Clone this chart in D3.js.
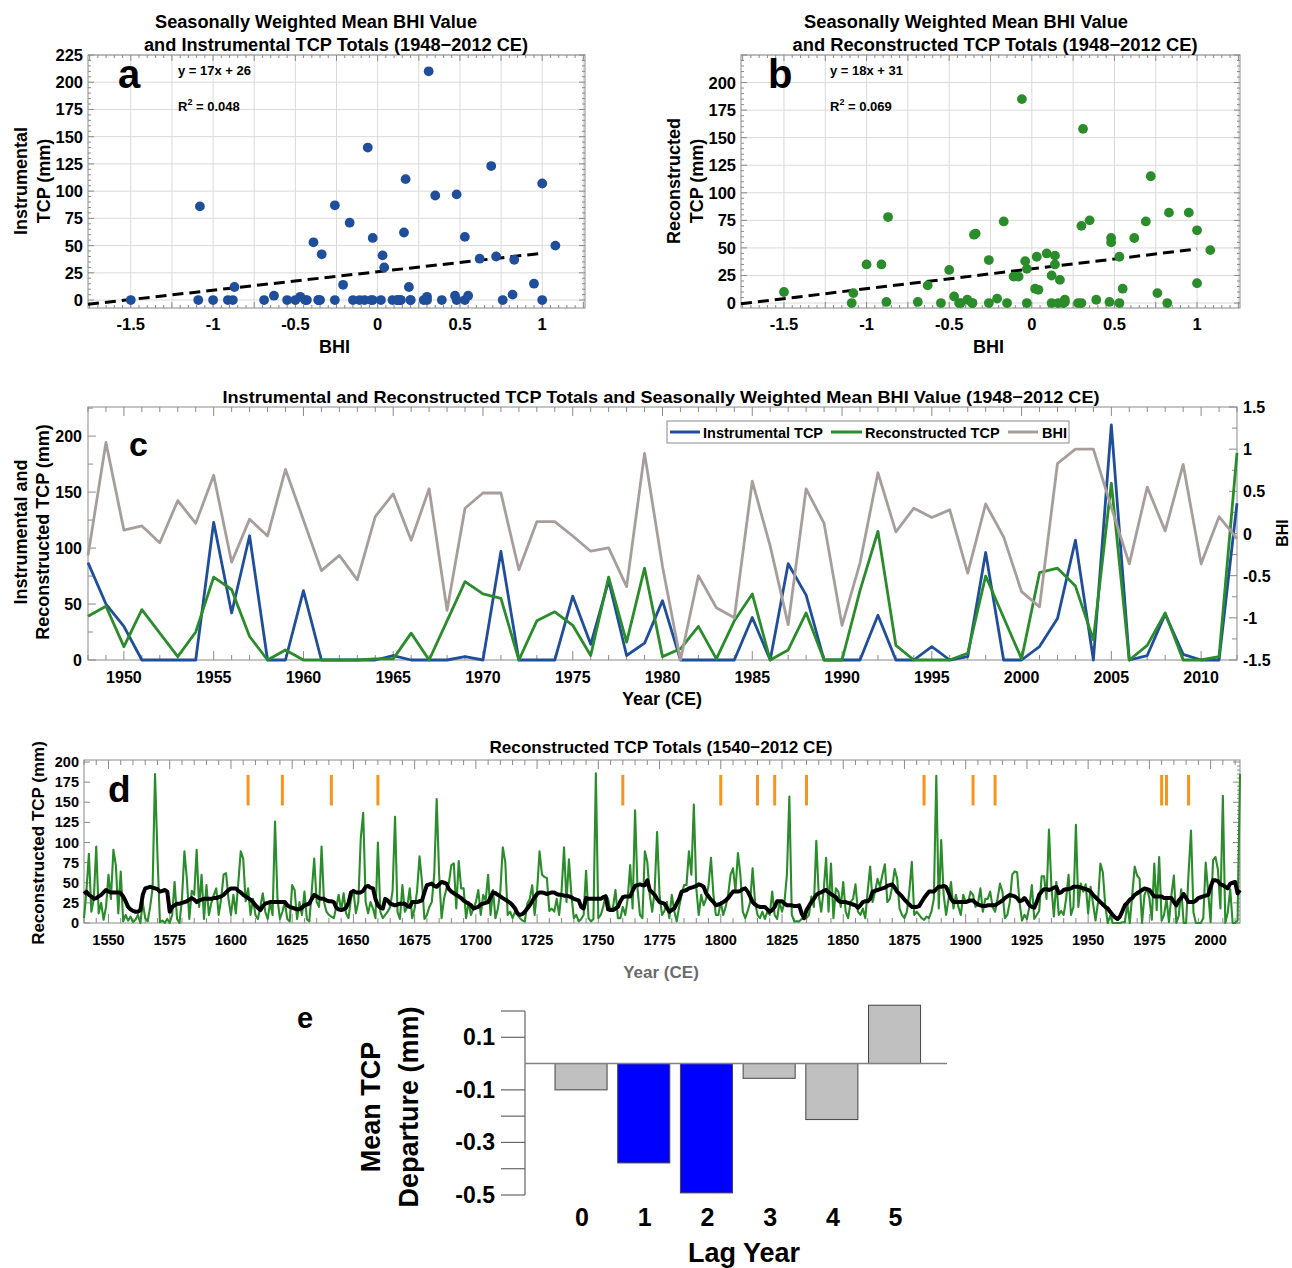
<!DOCTYPE html>
<html>
<head>
<meta charset="utf-8">
<script src="https://cdn.jsdelivr.net/npm/d3@7"></script>
<style>
html,body{margin:0;padding:0;background:#fff;}
svg{display:block;}
</style>
</head>
<body>
<svg id="fig" width="1292" height="1268"></svg>
<script>
// ===================== DATA =====================
// Panels a, b, c : annual values 1948-2012 CE
const firstYearC = 1948, lastYearC = 2012;
const instTCP = [
  87,50,30,0,0,0,0,123,42,111,
  0,0,62,0,0,0,0,4,0,0,
  0,3,0,97,0,0,0,57,14,71,
  4,15,53,0,0,0,0,38,0,86,
  58,0,0,0,40,0,0,12,0,3,
  96,0,0,12,37,107,0,210,0,4,
  41,5,0,0,140
];
const reconTCP = [
  39,48,12,45,24,3,25,74,63,21,
  0,9,0,0,0,0,1,1,24,0,
  35,70,59,55,0,35,43,31,4,74,
  16,82,3,10,30,1,35,59,0,9,
  42,0,0,62,115,13,0,0,0,6,
  75,38,1,78,82,66,18,158,0,13,
  42,0,0,3,185
];
const bhiValue = [
  -0.26,1.08,0.04,0.09,-0.11,0.39,0.12,0.69,-0.34,0.17,
  -0.03,0.76,0.16,-0.44,-0.26,-0.55,0.2,0.47,-0.08,0.53,
  -0.91,0.30,0.48,0.48,-0.43,0.14,0.14,-0.03,-0.21,-0.17,
  -0.63,0.95,-0.39,-1.5,-0.5,-0.88,-1.0,0.62,-0.15,-1.08,
  0.53,0.12,-1.09,-0.35,0.72,0.02,0.30,0.19,0.28,-0.47,
  0.35,-0.04,-0.69,-0.87,0.83,1.0,1.0,0.31,-0.36,0.55,
  0.03,0.82,-0.36,0.20,-0.06
];
const fitInst  = {slope: 17, intercept: 26, eq: "y = 17x + 26", r2: "0.048"};
const fitRecon = {slope: 18, intercept: 31, eq: "y = 18x + 31", r2: "0.069"};

// Panel d : reconstructed TCP 1540-1947 (1948-2012 continues with reconTCP)
const firstYearD = 1540;
const reconEarly = [
  6,40,86,14,30,95,12,25,4,20,
  60,30,91,72,12,64,2,10,3,8,
  1,4,10,0,25,6,2,20,43,185,
  84,1,3,0,5,0,10,51,5,0,
  30,89,55,5,40,35,91,20,60,5,
  47,10,25,35,43,10,30,60,62,30,
  10,35,12,50,89,80,27,43,10,30,
  10,5,20,37,14,5,26,10,126,30,
  5,14,26,5,2,47,41,5,26,10,
  39,5,2,40,80,26,20,95,26,14,
  10,8,6,20,35,15,37,12,6,30,
  41,12,26,105,137,26,12,26,18,6,
  100,14,6,10,14,20,40,132,14,5,
  47,14,20,43,6,18,40,83,51,5,
  10,20,26,60,154,60,6,30,43,50,
  72,74,18,77,43,43,6,26,10,18,
  26,41,10,35,28,60,10,41,6,18,
  40,94,76,10,14,6,14,10,6,3,
  2,24,30,47,10,40,89,60,57,56,
  15,18,14,30,10,40,94,26,79,35,
  6,10,2,5,10,65,6,2,5,186,
  6,10,20,35,30,15,20,41,6,6,
  20,10,30,72,18,140,43,10,6,89,
  76,35,14,40,113,35,10,15,26,6,
  35,15,2,20,35,47,47,89,60,147,
  43,10,35,22,30,47,81,35,10,10,
  26,10,20,35,60,68,40,87,60,14,
  6,15,26,68,26,10,6,14,5,14,
  10,39,10,5,26,14,26,60,157,10,
  2,2,2,5,6,6,10,33,20,102,
  35,14,40,81,14,74,6,43,39,20,
  51,14,6,26,30,48,14,10,18,6,
  40,70,26,39,55,45,60,73,26,30,
  45,67,55,18,10,6,14,40,76,10,
  14,10,6,4,8,6,14,30,183,18,
  103,35,10,30,51,18,35,20,10,35,
  26,26,39,35,20,24,43,14,30,30,
  39,20,14,30,49,39,6,10,26,60,
  64,63,25,3,10,5,20,47,5,10,
  15,58,58,30,116,45,8,51,10,15,
  10,30,60,10,20,122,20,49
];
// smoothed (black) curve, 1540-2012
const smoothTCP = [
  36,39,35,33,30,31,33,35,38,41,
  39,38,38,38,38,37,33,27,20,17,
  15,14,14,16,35,43,44,45,44,43,
  42,39,40,41,39,14,20,22,24,24,
  25,26,27,29,31,29,26,28,29,30,
  30,30,30,31,31,32,33,35,38,41,
  43,43,43,40,38,35,33,31,29,26,
  22,19,16,21,24,25,26,26,26,26,
  26,26,26,22,20,19,18,17,17,19,
  22,23,24,30,35,33,31,30,30,28,
  27,27,26,19,17,16,17,19,25,38,
  40,38,38,38,40,45,46,44,43,30,
  22,19,18,30,28,24,23,22,23,24,
  24,24,21,20,26,26,26,27,28,38,
  47,48,49,46,45,48,51,50,49,42,
  39,37,35,33,31,28,26,24,22,18,
  19,20,23,24,25,26,32,38,37,35,
  33,31,29,27,25,22,18,12,10,11,
  14,18,22,27,32,36,38,38,37,36,
  37,38,38,36,35,35,34,34,33,32,
  30,29,28,20,18,31,30,30,30,30,
  30,30,32,33,17,16,16,18,20,27,
  32,33,33,33,40,46,47,48,47,47,
  53,41,38,35,30,26,25,24,19,14,
  16,18,24,30,39,40,41,43,44,45,
  46,48,47,45,37,33,29,26,22,23,
  24,26,28,31,35,39,39,39,40,42,
  43,39,33,26,23,21,20,20,20,17,
  14,16,20,27,27,27,24,22,22,22,
  21,21,22,12,6,16,21,26,30,35,
  37,38,40,41,38,36,34,32,28,26,
  26,26,25,24,23,22,19,22,26,27,
  27,30,39,40,41,42,43,44,46,47,
  48,44,39,36,33,29,26,23,20,20,
  20,21,26,31,35,39,39,39,42,45,
  45,46,45,38,30,26,26,26,26,26,
  26,27,28,28,25,23,22,21,21,22,
  22,22,22,24,26,28,31,33,35,34,
  33,31,27,28,31,27,22,20,19,26,
  35,39,42,42,41,42,44,45,37,38,
  41,42,42,43,45,45,45,44,43,42,
  41,39,35,32,29,26,23,20,18,14,
  10,7,5,8,15,22,25,29,31,35,
  37,39,41,43,42,41,37,33,33,33,
  33,31,31,31,31,26,22,28,31,36,
  31,26,26,26,28,31,32,33,34,35,
  45,53,53,52,48,47,45,43,49,50,
  51,37,41
];
const eruptionYears = [1607,1621,1641,1660,1760,1800,1815,1822,1835,1883,1903,1912,1980,1982,1991];
const eruptionSpan = [146, 184];

// Panel e : superposed epoch analysis
const lagYears = [0,1,2,3,4,5];
const lagDeparture = [-0.100,-0.378,-0.492,-0.056,-0.213,0.222];
const lagSignificant = [false,true,true,false,false,false];

// Tick labels
const bhiTicks = [-1.5,-1,-0.5,0,0.5,1];
const tcpTicksA = [0,25,50,75,100,125,150,175,200,225];
const tcpTicksB = [0,25,50,75,100,125,150,175,200];
const yearTicksC = [1950,1955,1960,1965,1970,1975,1980,1985,1990,1995,2000,2005,2010];
const tcpTicksC = [0,50,100,150,200];
const bhiTicksC = [-1.5,-1,-0.5,0,0.5,1,1.5];
const yearTicksD = [1550,1575,1600,1625,1650,1675,1700,1725,1750,1775,1800,1825,1850,1875,1900,1925,1950,1975,2000];
const tcpTicksD = [0,25,50,75,100,125,150,175,200];
const lagTicks = [0.1,-0.1,-0.3,-0.5];
const lagMinorTicks = [0.2,-0.2,-0.4];

// ===================== DRAWING =====================
const svg = d3.select("#fig");
const FN = '"Liberation Sans",Arial,Helvetica,sans-serif';
const BLUE = "#1f4e9b", GREEN = "#2a8c2a", GRAYL = "#a79e9b", ORANGE = "#f7941d";
const FRAME = "#8a8a8a";

function T(g, x, y, s, size, o = {}) {
  const t = g.append("text").attr("x", x).attr("y", y)
    .attr("text-anchor", o.anchor || "middle")
    .attr("font-family", FN)
    .attr("font-size", size).attr("font-weight", "bold")
    .attr("fill", o.fill || "#000").text(s);
  if (o.len) t.attr("textLength", o.len).attr("lengthAdjust", "spacingAndGlyphs");
  return t;
}
function R(g, x, y, s, size, o = {}) {
  const t = g.append("text").attr("transform", `translate(${x},${y}) rotate(${o.rot ?? -90})`)
    .attr("text-anchor", "middle").attr("font-family", FN)
    .attr("font-size", size).attr("font-weight", "bold")
    .attr("fill", o.fill || "#000").text(s);
  if (o.len) t.attr("textLength", o.len).attr("lengthAdjust", "spacingAndGlyphs");
  return t;
}
function ln(g, x1, y1, x2, y2, stroke, w = 1) {
  return g.append("line").attr("x1", x1).attr("y1", y1).attr("x2", x2).attr("y2", y2)
    .attr("stroke", stroke).attr("stroke-width", w);
}

const yearsC = d3.range(firstYearC, lastYearC + 1);

// ---------- scatter panels a & b ----------
function scatterPanel(cfg) {
  const {x0, x1, y0, y1} = cfg.box;
  const xs = d3.scaleLinear().domain([-1.76, 1.26]).range([x0, x1]);
  const ys = d3.scaleLinear().domain(cfg.yDomain).range([y1, y0]);
  const g = svg.append("g");
  d3.range(-1.5, 1.2501, 0.25).forEach(v => ln(g, xs(v), y0, xs(v), y1, "#dadada"));
  d3.range(0, 225.1, 25).forEach(v => ln(g, x0, ys(v), x1, ys(v), "#dadada"));
  g.append("rect").attr("x", x0).attr("y", y0).attr("width", x1 - x0).attr("height", y1 - y0)
    .attr("fill", "none").attr("stroke", FRAME);
  d3.range(-1.75, 1.2601, 0.05).forEach(v => {
    const maj = Math.abs(v * 4 - Math.round(v * 4)) < 1e-6;
    const L = maj ? 6 : 3;
    ln(g, xs(v), y0, xs(v), y0 + L, FRAME); ln(g, xs(v), y1, xs(v), y1 - L, FRAME);
  });
  d3.range(0, 225.1, 5).forEach(v => {
    const L = v % 25 === 0 ? 6 : 3;
    ln(g, x0, ys(v), x0 + L, ys(v), FRAME); ln(g, x1, ys(v), x1 - L, ys(v), FRAME);
  });
  cfg.yTicks.forEach(v => T(g, x0 - 5, ys(v) + 6, String(v), 16.5, {anchor: "end"}));
  bhiTicks.forEach(v => T(g, xs(v), 330, String(v), 16.5));
  T(g, (x0 + x1) / 2 - 2, 353, "BHI", 18);
  // regression
  const fx = [-1.76, 1.0];
  g.append("path")
    .attr("d", d3.line()(fx.map(v => [xs(v), ys(cfg.fit.slope * v + cfg.fit.intercept)])))
    .attr("stroke", "#000").attr("stroke-width", 3).attr("stroke-dasharray", "11,6").attr("fill", "none");
  // points
  g.selectAll(null).data(cfg.points).join("circle")
    .attr("cx", d => xs(d[0])).attr("cy", d => ys(d[1])).attr("r", 4.9).attr("fill", cfg.color);
  // annotations
  T(g, cfg.annX, 75, cfg.fit.eq, 13, {anchor: "start"});
  const r2 = T(g, cfg.annX, 111, "R", 13, {anchor: "start"});
  r2.append("tspan").attr("dy", -6).attr("font-size", 9).text("2");
  r2.append("tspan").attr("dy", 6).text(" = " + cfg.fit.r2);
  T(g, cfg.letterX, 88, cfg.letter, 40, {anchor: "start"});
  // titles
  T(g, cfg.t1x, 28, "Seasonally Weighted Mean BHI Value", 18, {len: cfg.t1len});
  T(g, cfg.t2x, 51, cfg.t2, 18, {len: cfg.t2len});
  R(g, cfg.yl1x, 181, cfg.yl1, 18);
  R(g, cfg.yl2x, 181, "TCP (mm)", 18);
}

scatterPanel({
  box: {x0: 88, x1: 585, y0: 55, y1: 308}, yDomain: [-7.3, 225], yTicks: tcpTicksA,
  fit: fitInst, points: yearsC.map((y, i) => [bhiValue[i], instTCP[i]]), color: BLUE,
  annX: 178, letter: "a", letterX: 118,
  t1x: 316, t1len: 322, t2: "and Instrumental TCP Totals (1948\u22122012 CE)", t2x: 336, t2len: 384,
  yl1: "Instrumental", yl1x: 27, yl2x: 50
});
scatterPanel({
  box: {x0: 741, x1: 1240, y0: 55, y1: 308}, yDomain: [-4.5, 225], yTicks: tcpTicksB,
  fit: fitRecon, points: yearsC.map((y, i) => [bhiValue[i], reconTCP[i]]), color: GREEN,
  annX: 830, letter: "b", letterX: 768,
  t1x: 966, t1len: 324, t2: "and Reconstructed TCP Totals (1948\u22122012 CE)", t2x: 995, t2len: 405,
  yl1: "Reconstructed", yl1x: 680, yl2x: 703
});

// ---------- panel c ----------
(function () {
  const x0 = 88, x1 = 1237, y0 = 407, y1 = 660;
  const xs = d3.scaleLinear().domain([firstYearC, lastYearC]).range([x0, x1]);
  const ys = d3.scaleLinear().domain([0, 226]).range([y1, y0]);
  const yb = d3.scaleLinear().domain([-1.5, 1.5]).range([y1, y0]);
  const g = svg.append("g");
  g.append("rect").attr("x", x0).attr("y", y0).attr("width", x1 - x0).attr("height", y1 - y0)
    .attr("fill", "none").attr("stroke", FRAME);
  yearsC.forEach(yr => {
    const L = yr % 5 === 0 ? 9 : 5;
    ln(g, xs(yr), y0, xs(yr), y0 + L, FRAME); ln(g, xs(yr), y1, xs(yr), y1 - L, FRAME);
  });
  d3.range(0, 226, 25).forEach(v => ln(g, x0, ys(v), x0 + (v % 50 === 0 ? 8 : 5), ys(v), FRAME));
  d3.range(-1.5, 1.501, 0.25).forEach(v => {
    const maj = Math.abs(v * 2 - Math.round(v * 2)) < 1e-6;
    ln(g, x1, yb(v), x1 - (maj ? 8 : 5), yb(v), FRAME);
  });
  tcpTicksC.forEach(v => T(g, x0 - 6, ys(v) + 6, String(v), 16, {anchor: "end"}));
  bhiTicksC.forEach(v => T(g, x1 + 6, yb(v) + 6, String(v), 16, {anchor: "start"}));
  yearTicksC.forEach(v => T(g, xs(v), 683, String(v), 16));
  T(g, 662, 705, "Year (CE)", 18);
  T(g, 661, 403, "Instrumental and Reconstructed TCP Totals and Seasonally Weighted Mean BHI Value (1948\u22122012 CE)", 17, {len: 877});
  R(g, 27, 532, "Instrumental and", 18);
  R(g, 49, 532, "Reconstructed TCP (mm)", 18);
  R(g, 1288, 533, "BHI", 16);
  T(g, 129, 456, "c", 34, {anchor: "start"});
  const lineTCP = arr => d3.line().x((d, i) => xs(yearsC[i])).y(d => ys(d))(arr);
  g.append("path").attr("d", lineTCP(instTCP)).attr("fill", "none").attr("stroke", BLUE).attr("stroke-width", 2.8).attr("stroke-linejoin", "round");
  g.append("path").attr("d", lineTCP(reconTCP)).attr("fill", "none").attr("stroke", GREEN).attr("stroke-width", 2.8).attr("stroke-linejoin", "round");
  g.append("path").attr("d", d3.line().x((d, i) => xs(yearsC[i])).y(d => yb(d))(bhiValue))
    .attr("fill", "none").attr("stroke", GRAYL).attr("stroke-width", 2.8).attr("stroke-linejoin", "round");
  // legend
  const lg = g.append("g");
  lg.append("rect").attr("x", 667).attr("y", 421).attr("width", 402).attr("height", 22)
    .attr("fill", "#fff").attr("stroke", FRAME);
  [[BLUE, 670, 700, 703, "Instrumental TCP"], [GREEN, 831, 862, 865, "Reconstructed TCP"], [GRAYL, 1008, 1038, 1042, "BHI"]]
    .forEach(([c, a, b, tx, s]) => {
      ln(lg, a, 432, b, 432, c, 3);
      T(lg, tx, 438, s, 14.5, {anchor: "start"});
    });
})();

// ---------- panel d ----------
(function () {
  const x0 = 84, x1 = 1240, y0 = 760, y1 = 923;
  const longTCP = reconEarly.concat(reconTCP);
  const yearsD = d3.range(firstYearD, firstYearD + longTCP.length);
  const xs = d3.scaleLinear().domain([firstYearD, lastYearC]).range([x0, x1]);
  const ys = d3.scaleLinear().domain([0, 202.5]).range([y1, y0]);
  const g = svg.append("g");
  g.append("rect").attr("x", x0).attr("y", y0).attr("width", x1 - x0).attr("height", y1 - y0)
    .attr("fill", "none").attr("stroke", FRAME);
  d3.range(1540, 2013, 5).forEach(yr => {
    const L = yr % 25 === 0 ? 9 : 5;
    ln(g, xs(yr), y0, xs(yr), y0 + L, FRAME); ln(g, xs(yr), y1, xs(yr), y1 - L, FRAME);
  });
  d3.range(0, 201, 5).forEach(v => {
    if (v % 25 === 0) { ln(g, x0, ys(v), x0 + 6, ys(v), FRAME); ln(g, x1, ys(v), x1 - 7, ys(v), FRAME); }
    else ln(g, x1, ys(v), x1 - 3, ys(v), FRAME);
  });
  tcpTicksD.forEach(v => T(g, x0 - 5, ys(v) + 5, String(v), 14.5, {anchor: "end"}));
  yearTicksD.forEach(v => T(g, xs(v), 945, String(v), 14.5));
  T(g, 661, 978, "Year (CE)", 17, {fill: "#6b6b6b"});
  T(g, 661, 753, "Reconstructed TCP Totals (1540\u22122012 CE)", 17, {len: 343});
  R(g, 44, 843, "Reconstructed TCP (mm)", 17);
  T(g, 108, 802, "d", 37, {anchor: "start"});
  g.append("path").attr("d", d3.line().x((d, i) => xs(yearsD[i])).y(d => ys(d))(longTCP))
    .attr("fill", "none").attr("stroke", GREEN).attr("stroke-width", 2.1).attr("stroke-linejoin", "round");
  g.append("path").attr("d", d3.line().x((d, i) => xs(yearsD[i])).y(d => ys(d))(smoothTCP))
    .attr("fill", "none").attr("stroke", "#000").attr("stroke-width", 4).attr("stroke-linejoin", "round");
  g.selectAll(null).data(eruptionYears).join("line")
    .attr("x1", d => xs(d)).attr("x2", d => xs(d))
    .attr("y1", ys(eruptionSpan[0])).attr("y2", ys(eruptionSpan[1]))
    .attr("stroke", ORANGE).attr("stroke-width", 3);
})();

// ---------- panel e ----------
(function () {
  const axX = 525;
  const ys = d3.scaleLinear().domain([-0.5, 0.2]).range([1195, 1011]);
  const xs = d3.scaleBand().domain(lagYears).range([549.7, 925.9]).paddingInner(0.17).paddingOuter(0.085);
  const g = svg.append("g");
  ln(g, axX, ys(0.2), axX, ys(-0.5), "#666", 1.2);
  lagTicks.concat(lagMinorTicks).forEach(v => ln(g, axX - 24, ys(v), axX, ys(v), "#666", 1.2));
  lagTicks.forEach(v => T(g, 495, ys(v) + 8, String(v), 23, {anchor: "end"}));
  g.selectAll(null).data(lagYears).join("rect")
    .attr("x", d => xs(d))
    .attr("y", (d, i) => ys(Math.max(0, lagDeparture[i])))
    .attr("width", xs.bandwidth())
    .attr("height", (d, i) => Math.abs(ys(lagDeparture[i]) - ys(0)))
    .attr("fill", (d, i) => lagSignificant[i] ? "#0000ff" : "#c0c0c0")
    .attr("stroke", "#444").attr("stroke-width", 1);
  ln(g, axX, ys(0), 947, ys(0), "#808080", 1.5);
  lagYears.forEach(v => T(g, xs(v) + xs.bandwidth() / 2 + 1, 1226, String(v), 25));
  T(g, 744, 1262, "Lag Year", 27);
  R(g, 380, 1107, "Mean TCP", 27);
  R(g, 418, 1107, "Departure (mm)", 27);
  T(g, 297, 1028, "e", 29, {anchor: "start"});
})();
</script>
</body>
</html>
